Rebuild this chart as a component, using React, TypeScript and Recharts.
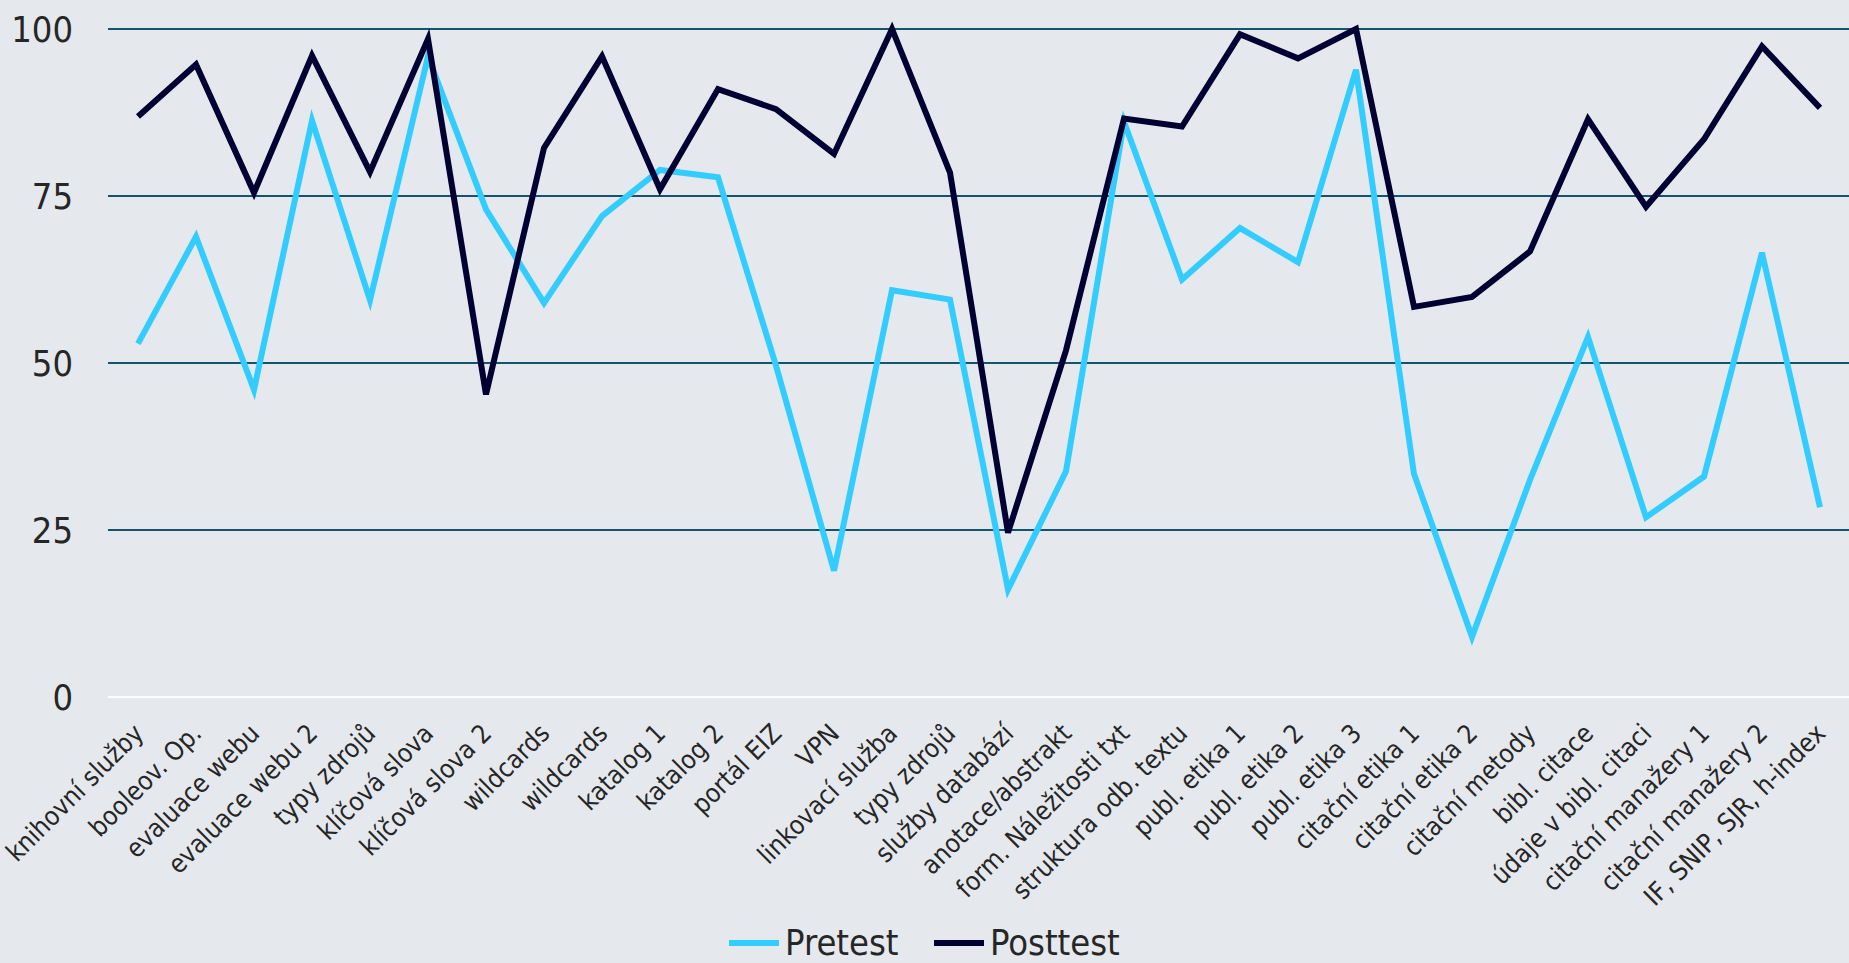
import React from 'react';
import { LineChart, Line, XAxis, YAxis, CartesianGrid, Legend } from 'recharts';

const categories = [
  'knihovní služby', 'booleov. Op.', 'evaluace webu', 'evaluace webu 2', 'typy zdrojů',
  'klíčová slova', 'klíčová slova 2', 'wildcards', 'wildcards ', 'katalog 1',
  'katalog 2', 'portál EIZ', 'VPN', 'linkovací služba', 'typy zdrojů ',
  'služby databází', 'anotace/abstrakt', 'form. Náležitosti txt', 'struktura odb. textu', 'publ. etika 1',
  'publ. etika 2', 'publ. etika 3', 'citační etika 1', 'citační etika 2', 'citační metody',
  'bibl. citace', 'údaje v bibl. citaci', 'citační manažery 1', 'citační manažery 2', 'IF, SNIP, SJR, h-index',
];

const pretest = [
  52.9, 68.9, 46.0, 86.3, 59.4, 95.9, 73.0, 59.0, 72.0, 78.9,
  77.8, 49.6, 18.9, 60.9, 59.5, 16.1, 33.8, 86.1, 62.5, 70.2,
  65.1, 93.9, 33.4, 9.0, 32.5, 53.9, 26.9, 33.0, 66.5, 28.4,
];

const posttest = [
  86.9, 94.7, 75.5, 96.0, 78.6, 98.5, 45.3, 82.2, 95.9, 76.0,
  91.0, 88.0, 81.3, 100, 78.5, 24.6, 51.9, 86.6, 85.4, 99.2,
  95.6, 100, 58.4, 59.9, 66.7, 86.5, 73.4, 83.5, 97.4, 88.2,
];

const yTicks = [0, 25, 50, 75, 100];

const seriesNames = ['Pretest', 'Posttest'];
const PRE_COLOR = '#33ccff';
const POST_COLOR = '#000033';
const FONT = "'DejaVu Sans Condensed', 'DejaVu Sans', sans-serif";

const data = categories.map((c, i) => ({ name: c, pre: pretest[i], post: posttest[i] }));

const XTick = (props: any) => {
  const { x, y, payload } = props;
  const ax = x + 7;
  const ay = y + 30;
  return (
    <text
      x={ax}
      y={ay}
      transform={`rotate(-45 ${ax} ${ay})`}
      textAnchor="end"
      fontSize={26}
      fontFamily={FONT}
      fontStretch="condensed"
      fill="#262626"
    >
      {String(payload.value).trim()}
    </text>
  );
};

const YTick = (props: any) => {
  const { y, payload } = props;
  return (
    <text
      x={73}
      y={y}
      textAnchor="end"
      dominantBaseline="central"
      fontSize={36}
      fontFamily={FONT}
      fontStretch="condensed"
      fill="#262626"
    >
      {payload.value}
    </text>
  );
};

const LegendContent = () => {
  const items = [
    { name: seriesNames[0], color: PRE_COLOR, left: 729 },
    { name: seriesNames[1], color: POST_COLOR, left: 934 },
  ];
  return (
    <div style={{ position: 'relative', width: 1849, height: 40 }}>
      {items.map((it) => (
        <div
          key={it.name}
          style={{
            position: 'absolute',
            left: it.left,
            top: 0,
            height: 40,
            display: 'flex',
            alignItems: 'center',
          }}
        >
          <div style={{ width: 50, height: 6, background: it.color, marginRight: 6 }} />
          <span
            style={{
              fontSize: 36,
              fontFamily: FONT,
              fontStretch: 'condensed',
              color: '#262626',
              lineHeight: '40px',
              whiteSpace: 'nowrap',
            }}
          >
            {it.name}
          </span>
        </div>
      ))}
    </div>
  );
};

export default function App() {
  return (
    <div
      style={{
        position: 'absolute',
        left: 0,
        top: 0,
        width: 1849,
        height: 963,
        background: '#e5e9ee',
        overflow: 'hidden',
      }}
    >
      <LineChart
        width={1849}
        height={963}
        data={data}
        margin={{ top: 29, right: 0, left: 0, bottom: 0 }}
      >
        <CartesianGrid vertical={false} stroke="#15546d" strokeWidth={2} />
        <XAxis
          dataKey="name"
          interval={0}
          height={226}
          padding={{ left: 30, right: 29 }}
          tick={<XTick />}
          tickLine={false}
          axisLine={{ stroke: '#ffffff', strokeWidth: 2 }}
        />
        <YAxis
          domain={[0, 100]}
          ticks={yTicks}
          width={108}
          tick={<YTick />}
          tickLine={false}
          axisLine={false}
        />
        <Legend verticalAlign="bottom" height={40} content={<LegendContent />} />
        <Line
          type="linear"
          dataKey="pre"
          name={seriesNames[0]}
          stroke={PRE_COLOR}
          strokeWidth={6}
          dot={false}
          activeDot={false}
          isAnimationActive={false}
        />
        <Line
          type="linear"
          dataKey="post"
          name={seriesNames[1]}
          stroke={POST_COLOR}
          strokeWidth={6}
          dot={false}
          activeDot={false}
          isAnimationActive={false}
        />
      </LineChart>
    </div>
  );
}
